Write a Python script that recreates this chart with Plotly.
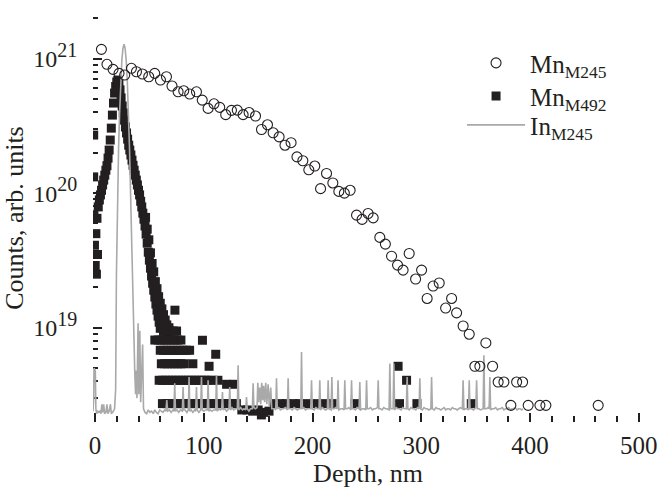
import plotly.graph_objects as go

# ---------------- data ----------------
# Mn (M245) open circles
mn245_x = [5.9, 11.0, 16.6, 22.1, 27.3, 33.5, 38.1, 43.6, 49.4, 54.9, 60.2, 65.7, 70.8, 76.4, 81.6,
           87.1, 93.3, 98.6, 104.0, 109.4, 114.7, 120.2, 125.5, 130.8, 136.2, 141.7, 147.6, 153.1,
           158.6, 163.8, 169.3, 174.7, 180.3, 185.7, 191.1, 196.6, 202.1, 207.4, 212.9, 218.7, 224.2,
           229.3, 234.6, 240.5, 245.6, 251.1, 255.8, 261.9, 267.0, 272.7, 278.2, 283.3, 288.9, 294.8,
           300.3, 305.4, 310.9, 316.5, 322.4, 327.9, 332.5, 338.5, 344.1, 349.3, 353.9, 359.4, 365.6,
           370.7, 376.0, 382.4, 387.7, 393.2, 398.3, 409.1, 414.6, 462.7]
mn245_y = [1.17e21, 9.06e20, 8.31e20, 7.76e20, 7.54e20, 8.46e20, 7.98e20, 7.67e20, 7.32e20, 7.76e20,
           6.92e20, 7.32e20, 6.25e20, 5.66e20, 5.76e20, 5.45e20, 5.66e20, 4.91e20, 4.26e20, 4.61e20,
           4.34e20, 3.83e20, 4.12e20, 4.14e20, 3.83e20, 3.97e20, 3.74e20, 2.97e20, 3.22e20, 2.81e20,
           2.62e20, 2.27e20, 2.37e20, 1.86e20, 1.74e20, 1.49e20, 1.59e20, 1.08e20, 1.40e20, 1.19e20,
           1.03e20, 1.00e20, 1.05e20, 6.86e19, 6.38e19, 7.06e19, 6.55e19, 4.69e19, 4.18e19, 3.40e19,
           2.92e19, 2.68e19, 3.56e19, 2.30e19, 2.68e19, 1.65e19, 2.04e19, 2.15e19, 1.40e19, 1.65e19,
           1.29e19, 1.03e19, 8.95e18, 5.17e18, 5.17e18, 7.71e18, 5.17e18, 3.95e18, 3.95e18, 2.65e18,
           3.95e18, 3.95e18, 2.65e18, 2.65e18, 2.65e18, 2.65e18]

# Mn (M492) filled squares
mn492_x = [-1.2, -1.2, -1.0, -0.5, 0.2, 0.8, 1.3, 1.8, 2.3, 3, 4, 5, 6, 7, 8, 9, 10, 11, 12, 13, 14,
           15, 16, 17, 18, 19, 20, 21, 22, 23, 24, 25, 26, 27, 28, 29, 30, 31, 32, 33, 34, 35, 36, 37,
           38, 39, 40, 41, 42, 43, 44, 45, 46, 47, 48, 49, 50, 51, 52, 53, 54, 55, 56, 57, 58, 59, 60,
           62, 63, 64, 66, 67,
           46.5, 48, 49.5, 51, 52.5, 54, 55.5, 57, 58.5, 60, 61.5, 63, 64.5, 66, 68,
           66, 69, 72, 75,
           55, 58, 61, 64, 67, 70, 73, 76, 79,
           60, 63, 66, 69, 72, 75, 78, 81, 84, 87,
           61, 64, 67, 70, 73, 76, 79, 82, 90,
           59, 62, 65, 68, 71, 74, 77, 80, 83, 86, 89, 92, 95, 98, 101, 104, 107, 113, 121, 128,
           62, 66, 70, 74, 78, 82, 86, 90, 94, 98, 102, 106, 110, 114, 118, 122, 126, 130, 165, 170,
           176, 182, 188, 196, 204, 212, 218, 239, 280, 296, 346,
           135, 140, 145, 150, 155, 160,
           73.5, 98.8, 111, 104.9, 153, 278.7, 286.5]
mn492_y = [2.7e20, 1.32e20, 6.9e19, 4.1e19, 2.9e19, 5.0e19, 2.5e19, 6.5e19, 3.5e19, 7.9e19, 8.9e19,
           9.7e19, 1.05e20, 1.15e20, 1.25e20, 1.36e20, 1.48e20, 1.6e20, 1.82e20, 2.09e20, 2.48e20,
           3.04e20, 3.8e20, 4.67e20, 5.54e20, 6.2e20, 6.69e20, 6.92e20, 6.5e20, 5.85e20, 5.1e20,
           4.44e20, 3.94e20, 3.49e20, 3.1e20, 2.8e20, 2.52e20, 2.27e20, 2.09e20, 1.92e20, 1.76e20,
           1.61e20, 1.48e20, 1.36e20, 1.25e20, 1.15e20, 1.05e20, 9.7e19, 8.7e19, 7.9e19, 7.1e19,
           6.4e19, 5.7e19, 4.96e19, 4.25e19, 3.64e19, 3.18e19, 2.77e19, 2.42e19, 2.14e19, 1.9e19,
           1.69e19, 1.5e19, 1.35e19, 1.22e19, 1.1e19, 9.9e18, 1.05e19, 9.4e18, 1.1e19, 9.5e18, 9.3e18,
           6.6e19, 5.4e19, 4.5e19, 3.6e19, 3.0e19, 2.6e19, 2.2e19, 1.95e19, 1.7e19, 1.52e19, 1.38e19,
           1.25e19, 1.14e19, 1.05e19, 1.0e19,
           9.45e18, 9.45e18, 9.45e18, 9.45e18,
           8.1e18, 8.1e18, 8.1e18, 8.1e18, 8.1e18, 8.1e18, 8.1e18, 8.1e18, 8.1e18,
           6.8e18, 6.8e18, 6.8e18, 6.8e18, 6.8e18, 6.8e18, 6.8e18, 6.8e18, 6.8e18, 6.8e18,
           5.4e18, 5.4e18, 5.4e18, 5.4e18, 5.4e18, 5.4e18, 5.4e18, 5.4e18, 5.4e18,
           4.07e18, 4.07e18, 4.07e18, 4.07e18, 4.07e18, 4.07e18, 4.07e18, 4.07e18, 4.07e18, 4.07e18,
           4.07e18, 4.07e18, 4.07e18, 4.07e18, 4.07e18, 4.07e18, 4.07e18, 4.07e18, 3.8e18, 3.8e18,
           2.73e18, 2.73e18, 2.73e18, 2.73e18, 2.73e18, 2.73e18, 2.73e18, 2.73e18, 2.73e18, 2.73e18,
           2.73e18, 2.73e18, 2.73e18, 2.73e18, 2.73e18, 2.73e18, 2.73e18, 2.73e18, 2.73e18, 2.73e18,
           2.73e18, 2.73e18, 2.73e18, 2.73e18, 2.73e18, 2.73e18, 2.73e18, 2.73e18, 2.73e18, 2.73e18,
           2.73e18,
           2.45e18, 2.45e18, 2.4e18, 2.45e18, 2.35e18, 2.4e18,
           1.35e19, 8.07e18, 6.35e18, 5.17e18, 2.25e18, 5.17e18, 4.07e18]

# In (M245) grey line, values in units of 1e18
in245_x = [-1.8, -1.2, -0.9, 0.3, 0.8, 1.5, 2.5, 3.5, 4.5, 5.5, 6.3, 7.0, 8.0, 8.8, 10, 11, 11.8, 13,
           14.2, 15, 16, 17, 18, 19.0, 19.7, 20.7, 21.7, 22.7, 23.7, 24.7, 25.7, 26.7, 27.7, 28.7, 29.7,
           30.7, 31.7, 32.7, 33.7, 34.7, 35.7, 36.6, 37.3, 38.0, 38.6, 39.6, 40.3, 41.2, 42.0, 43.8, 44.6,
           46, 47.5, 49, 50.5, 52, 53.5, 55, 56.5, 58, 59.5, 61, 62.5, 64, 65.2, 66.0, 66.8, 68.5, 70,
           71.5, 72.6, 73.3, 74.0, 75.5, 77, 78.5, 80.3, 81.0, 81.7, 83, 84.5, 85.8, 86.5, 87.2, 88.5,
           90, 91.5, 92.6, 93.3, 94.0, 95.5, 97.2, 97.9, 98.6, 100, 101.5, 103.3, 104.0, 104.7, 106,
           107.5, 109, 111, 111.7, 112.4, 114, 115.5, 116.5, 117.2, 117.9, 119.5, 121, 123.2, 123.9,
           124.6, 126, 127.5, 129, 130.9, 131.6, 132.3, 134, 135.5, 137, 138.6, 139.3, 140, 141.5, 143,
           144.7, 145.4, 146.1, 147.5, 149, 149.7, 150.5, 151.5, 152.4, 153.3, 154.2, 155, 156, 157,
           158, 159.2, 160.3, 161.6, 162.5, 164, 165.5, 166.2, 166.9, 167.6, 169, 170.5, 172, 173.5,
           175, 176.9, 177.6, 178.3, 180, 181.5, 183, 184.5, 186, 187.5, 189.2, 189.9, 190.6, 192,
           193.5, 195, 196.5, 198.4, 199.1, 199.8, 201.5, 203, 204.5, 206, 206.7, 207.4, 209, 210.5,
           212, 213.7, 214.4, 215.1, 217.1, 217.8, 218.5, 220, 221.5, 222.8, 223.5, 224.2, 226, 227.5,
           229, 229.7, 230.4, 232, 233.5, 235.2, 235.9, 236.6, 238, 239.5, 241, 242.8, 243.5, 244.2,
           246, 247.5, 249, 249.7, 250.4, 252, 253.5, 255, 256.5, 258, 259.7, 260.4, 261.1, 262.5, 264,
           265.5, 267, 268.5, 270.4, 271.1, 271.8, 273, 274.1, 274.8, 275.5, 277, 278.5, 280, 281.5,
           283, 284.5, 286.3, 287.0, 287.7, 289, 290.5, 292, 293.5, 295, 296.5, 298, 298.7, 299.4, 301,
           302.5, 304, 305.5, 307, 308.8, 309.5, 310.2, 312, 313.5, 315, 316.5, 318, 319.5, 321, 322.5,
           324, 325.5, 327, 328.5, 330, 331.5, 333, 334.5, 336, 337.8, 338.5, 339.2, 340.5, 342, 343.4,
           344.1, 344.8, 346.5, 348, 350.2, 350.9, 351.6, 353, 354.5, 356.9, 357.6, 358.3, 360, 361.5,
           362.4, 363.1, 363.8, 365.5, 367, 368.5, 370, 371.5, 373, 374.5, 376, 377.5, 379, 380.5, 382,
           383.5, 385, 386.5, 388, 389.5, 391, 392.5, 393.5]
in245_y_e18 = [2.4, 3.0, 5.0, 4.8, 2.5, 2.3, 2.4, 2.35, 2.4, 2.3, 2.7, 2.35, 2.7, 2.3, 2.35, 2.7, 2.3,
               2.4, 2.7, 2.3, 2.35, 2.4, 2.5, 3.5, 25, 100, 220, 410, 680, 970, 1190, 1280, 1190, 970,
               680, 410, 220, 100, 40, 15, 6.0, 4.6, 3.2, 4.8, 3.0, 10.8, 3.2, 9.5, 2.8, 7.5, 2.5,
               2.35, 2.3, 2.45, 2.35, 2.4, 2.3, 2.45, 2.35, 2.3, 2.45, 2.4, 2.35, 2.45, 2.4, 2.9, 2.4,
               2.45, 2.35, 2.45, 2.4, 3.87, 2.4, 2.45, 2.35, 2.45, 2.4, 3.63, 2.45, 2.45, 2.35, 2.45,
               4.31, 2.4, 2.45, 2.35, 2.45, 2.4, 3.63, 2.45, 2.35, 2.45, 4.31, 2.45, 2.4, 2.45, 2.45,
               4.07, 2.4, 2.45, 2.4, 2.45, 2.45, 4.43, 2.4, 2.5, 2.45, 2.5, 3.33, 2.45, 2.5, 2.4, 2.5,
               3.63, 2.45, 2.55, 2.45, 2.5, 2.5, 5.26, 2.45, 2.55, 2.45, 2.5, 2.45, 3.06, 2.5, 2.4, 2.5,
               2.5, 3.87, 2.55, 2.5, 2.55, 3.9, 2.8, 3.6, 2.7, 3.9, 2.9, 3.7, 2.8, 3.9, 2.7, 3.8, 2.6,
               3.6, 2.5, 2.5, 2.5, 2.45, 4.21, 2.5, 2.55, 2.45, 2.5, 2.5, 2.55, 2.45, 4.21, 2.5, 2.5,
               2.45, 2.55, 2.5, 2.45, 2.5, 2.5, 6.61, 2.5, 2.55, 2.45, 2.5, 2.5, 2.5, 4.07, 2.5, 2.45,
               2.55, 2.5, 2.5, 4.07, 2.45, 2.55, 2.5, 2.45, 2.5, 4.07, 2.5, 2.45, 4.31, 2.5, 2.5, 2.55,
               2.5, 4.07, 2.45, 2.5, 2.5, 2.45, 4.07, 2.5, 2.5, 2.55, 2.45, 4.07, 2.5, 2.5, 2.45, 2.55,
               2.5, 3.95, 2.45, 2.5, 2.5, 2.45, 4.07, 2.5, 2.5, 2.55, 2.45, 2.5, 2.5, 2.55, 4.07, 2.5,
               2.5, 2.45, 2.55, 2.5, 2.5, 2.45, 5.42, 2.5, 2.5, 2.5, 5.42, 2.45, 2.55, 2.5, 2.5, 2.45,
               2.55, 2.5, 2.5, 4.31, 2.5, 2.45, 2.55, 2.5, 2.5, 2.45, 2.55, 2.5, 4.21, 2.5, 2.45, 2.55,
               2.5, 2.5, 2.45, 2.5, 4.31, 2.5, 2.45, 2.55, 2.5, 2.5, 2.45, 2.5, 2.55, 2.45, 2.5, 2.5,
               2.45, 2.55, 2.5, 2.5, 2.45, 2.5, 2.55, 2.5, 4.07, 2.45, 2.5, 2.5, 2.45, 4.07, 2.5, 2.5,
               2.45, 2.55, 4.07, 2.5, 2.5, 2.45, 2.5, 6.25, 2.5, 2.5, 2.55, 2.5, 4.3, 2.45, 2.5, 2.5,
               2.55, 2.45, 2.5, 2.5, 2.55, 2.45, 2.5, 2.5, 2.55, 2.45, 2.5, 2.5, 2.55, 2.45, 2.5, 2.5,
               2.45, 2.5]
in245_y = [v * 1e18 for v in in245_y_e18]

x_ticks = [0, 100, 200, 300, 400, 500]
y_ticks = [1e19, 1e20, 1e21]
y_exps = ["19", "20", "21"]
y_ticktext = ["10<sup><span style='font-size:20px'>%s</span></sup>" % e for e in y_exps]
y_minor = [2e18, 3e18, 4e18, 5e18, 6e18, 7e18, 8e18, 9e18,
           2e19, 3e19, 4e19, 5e19, 6e19, 7e19, 8e19, 9e19,
           2e20, 3e20, 4e20, 5e20, 6e20, 7e20, 8e20, 9e20, 2e21]

FONT = "Liberation Serif"
INK = "#231f20"

fig = go.Figure()
fig.add_trace(go.Scatter(
    x=mn245_x, y=mn245_y, mode="markers", name="Mn<sub>M245</sub>", zorder=3, legend="legend",
    marker=dict(symbol="circle-open", size=10, color=INK, line=dict(width=1.1, color=INK)),
))
fig.add_trace(go.Scatter(
    x=mn492_x, y=mn492_y, mode="markers", name="Mn<sub>M492</sub>", zorder=1, legend="legend2",
    marker=dict(symbol="square", size=9, color=INK, line=dict(width=0)),
))
fig.add_trace(go.Scatter(
    x=in245_x, y=in245_y, mode="lines", name="In<sub>M245</sub>", zorder=2, legend="legend3",
    line=dict(color="#a9a9a9", width=1.6),
))

leg_common = dict(x=0.671, xanchor="left", yanchor="top", itemwidth=58,
                  bgcolor="rgba(0,0,0,0)", font=dict(family=FONT, size=25, color=INK))

fig.update_layout(
    width=659, height=488,
    margin=dict(l=93, r=16, t=14, b=66, autoexpand=False),
    paper_bgcolor="white", plot_bgcolor="white",
    font=dict(family=FONT, size=24, color=INK),
    showlegend=True,
    legend=dict(y=0.936, **leg_common),
    legend2=dict(y=0.855, **leg_common),
    legend3=dict(y=0.784, **leg_common),
    xaxis=dict(
        range=[-1.84, 503.9], showline=True, linewidth=2, linecolor=INK, mirror=False,
        showgrid=False, zeroline=False, automargin=False,
        tickmode="array", tickvals=x_ticks, ticks="inside", ticklen=9, tickwidth=1.5, tickcolor=INK,
        ticklabelstandoff=0,
        minor=dict(ticks="inside", ticklen=6, tickwidth=1.5, tickcolor=INK, dtick=20, tick0=0, showgrid=False),
        tickfont=dict(family=FONT, size=25, color=INK),
        title=dict(text="Depth, nm", font=dict(family=FONT, size=26, color=INK), standoff=9),
    ),
    yaxis=dict(
        type="log", range=[18.2996, 21.3309], showline=True, linewidth=2, linecolor=INK,
        showgrid=False, zeroline=False, automargin=False,
        tickmode="array", tickvals=y_ticks, ticktext=y_ticktext, ticks="inside", ticklen=9,
        tickwidth=1.5, tickcolor=INK, ticklabelstandoff=9,
        minor=dict(ticks="inside", ticklen=5, tickwidth=1.5, tickcolor=INK, tickmode="array",
                   tickvals=y_minor, showgrid=False),
        tickfont=dict(family=FONT, size=24, color=INK),
        title=dict(text="Counts, arb. units", font=dict(family=FONT, size=26, color=INK), standoff=3),
    ),
)

fig.write_html("out.html")
